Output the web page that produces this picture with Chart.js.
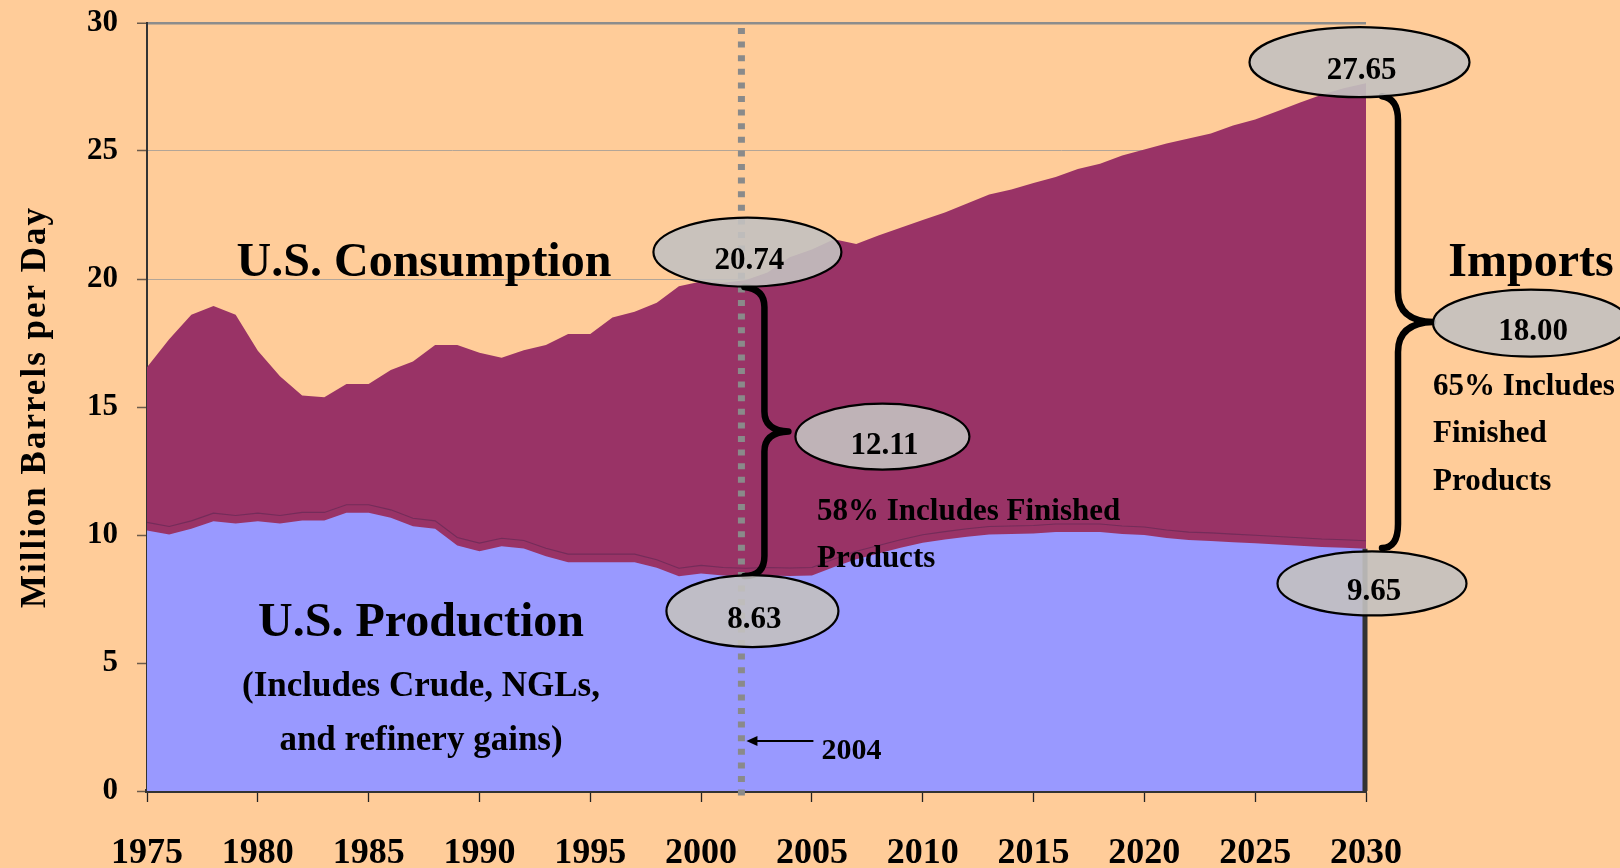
<!DOCTYPE html>
<html><head><meta charset="utf-8">
<script src="https://cdn.jsdelivr.net/npm/chart.js@4/dist/chart.umd.min.js"></script>
<style>html,body{margin:0;padding:0;background:#FFCC99;overflow:hidden}#wrap{width:1620px;height:868px}</style>
</head><body><div id="wrap"><canvas id="c" width="1620" height="868"></canvas></div>
<script>
// ---- data ----
const years = [1975,1976,1977,1978,1979,1980,1981,1982,1983,1984,1985,1986,1987,1988,1989,1990,1991,1992,1993,1994,1995,1996,1997,1998,1999,2000,2001,2002,2003,2004,2005,2006,2007,2008,2009,2010,2011,2012,2013,2014,2015,2016,2017,2018,2019,2020,2021,2022,2023,2024,2025,2026,2027,2028,2029,2030];
const consumption = [16.55,17.65,18.6,18.95,18.6,17.2,16.2,15.45,15.38,15.9,15.9,16.45,16.78,17.42,17.42,17.12,16.92,17.22,17.42,17.85,17.85,18.5,18.72,19.07,19.72,19.9,19.85,19.95,20.25,20.85,21.15,21.55,21.37,21.7,22.0,22.3,22.6,22.95,23.3,23.5,23.75,23.98,24.3,24.5,24.82,25.06,25.29,25.49,25.68,26.0,26.23,26.55,26.88,27.2,27.45,27.65];
const production = [10.18,10.02,10.24,10.54,10.45,10.54,10.45,10.57,10.57,10.87,10.87,10.67,10.34,10.24,9.59,9.37,9.56,9.47,9.17,8.94,8.94,8.94,8.94,8.72,8.39,8.5,8.42,8.39,8.42,8.4,8.42,8.75,9.05,9.28,9.5,9.7,9.82,9.93,10.02,10.04,10.06,10.12,10.12,10.12,10.04,10.0,9.88,9.8,9.77,9.72,9.68,9.63,9.58,9.53,9.5,9.46];
const xTickYears = [1975,1980,1985,1990,1995,2000,2005,2010,2015,2020,2025,2030];
const yTicks = [0,5,10,15,20,25,30];
const markerYear = 2002;          // dotted reference line
const markerLabel = '2004';
const calloutTop = 20.74, calloutMid = 12.11, calloutBot = 8.63;
const calloutTop2 = 27.65, calloutMid2 = 18.00, calloutBot2 = 9.65;
const calloutTexts = ['20.74','12.11','8.63','27.65','18.00','9.65'];

const FONT = "'Liberation Serif','Times New Roman',serif";
Chart.defaults.font.family = FONT;

function drawBrace(ctx, xEnd, yTop, yBot, xV, tipX, rEnd, rTip){
  const yMid = (yTop + yBot) / 2;
  ctx.beginPath();
  ctx.moveTo(xEnd, yTop);
  ctx.quadraticCurveTo(xV, yTop + 2, xV, yTop + rEnd);
  ctx.lineTo(xV, yMid - rTip);
  ctx.quadraticCurveTo(xV, yMid - 1, tipX, yMid);
  ctx.quadraticCurveTo(xV, yMid + 1, xV, yMid + rTip);
  ctx.lineTo(xV, yBot - rEnd);
  ctx.quadraticCurveTo(xV, yBot, xEnd, yBot);
  ctx.stroke();
  return {x: tipX, y: yMid};
}
function ellipse(ctx, cx, cy, rx, ry, text){
  ctx.beginPath();
  ctx.ellipse(cx, cy, rx, ry, 0, 0, Math.PI*2);
  ctx.fillStyle = 'rgba(195,193,192,0.9)';
  ctx.fill();
  ctx.lineWidth = 2.2; ctx.strokeStyle = '#000'; ctx.stroke();
  txt(ctx, text, cx + 2, cy + 17, 31);
}
function txt(ctx, s, x, y, size, align='center', weight='bold'){
  ctx.font = `${weight} ${size}px ${FONT}`;
  ctx.textAlign = align; ctx.textBaseline = 'alphabetic'; ctx.fillStyle = '#000';
  ctx.fillText(s, x, y);
}

const spacing = {
  id: 'spacing',
  afterUpdate(chart){
    const s = chart.scales.y;
    if (s && !s._patched){
      const orig = s.drawTitle;
      s.drawTitle = function(){
        const c = this.ctx; c.save(); c.letterSpacing = '2px'; orig.apply(this, arguments); c.restore();
      };
      s._patched = true;
    }
  }
};

const annot = {
  id: 'annot',
  afterDatasetsDraw(chart){
    const {ctx, chartArea: ca, scales: {x, y}} = chart;
    const xi = yr => x.getPixelForValue(years.indexOf(yr));
    ctx.save();
    // shadow line above production edge
    ctx.beginPath();
    production.forEach((v, i) => {
      const px = x.getPixelForValue(i), py = y.getPixelForValue(v) - 8;
      i ? ctx.lineTo(px, py) : ctx.moveTo(px, py);
    });
    ctx.strokeStyle = 'rgba(70,35,75,0.45)'; ctx.lineWidth = 1.1; ctx.stroke();
    // right border beside production area
    const xr = ca.right;
    ctx.beginPath();
    ctx.moveTo(xr - 1, y.getPixelForValue(production[production.length-1]));
    ctx.lineTo(xr - 1, ca.bottom);
    ctx.strokeStyle = '#333'; ctx.lineWidth = 5; ctx.stroke();

    // dotted marker line
    const X = xi(markerYear) - 4;
    ctx.beginPath();
    ctx.setLineDash([6, 7.6]);
    ctx.moveTo(X, ca.top + 5); ctx.lineTo(X, ca.bottom + 8);
    ctx.strokeStyle = '#8a8a8a'; ctx.lineWidth = 7; ctx.stroke();
    ctx.setLineDash([]);

    // braces
    ctx.strokeStyle = '#000'; ctx.lineWidth = 6.5; ctx.lineCap = 'round'; ctx.lineJoin = 'round';
    const yT = y.getPixelForValue(calloutTop), yB = y.getPixelForValue(calloutBot);
    const tip1 = drawBrace(ctx, X + 3, yT + 27, yB + 6, X + 23, X + 47, 20, 20);
    const XR = x.getPixelForValue(years.length - 1);
    const yT2 = y.getPixelForValue(calloutTop2), yB2 = y.getPixelForValue(calloutBot2);
    const tip2 = drawBrace(ctx, XR + 16, yT2 + 13, yB2 + 4, XR + 32, XR + 67, 24, 30);

    // ellipses
    ellipse(ctx, X + 6, yT - 8, 94, 34.5, calloutTexts[0]);
    ellipse(ctx, tip1.x + 94, tip1.y + 5, 87, 33, calloutTexts[1]);
    ellipse(ctx, X + 11, yB + 41, 86, 36, calloutTexts[2]);
    ellipse(ctx, XR - 6.5, yT2 - 21, 110, 35, calloutTexts[3]);
    ellipse(ctx, tip2.x + 98, tip2.y + 1, 98, 33.5, calloutTexts[4]);
    ellipse(ctx, XR + 6, yB2 + 39.5, 94.5, 32, calloutTexts[5]);

    // arrow to marker
    const ay = 741;
    ctx.beginPath(); ctx.moveTo(X + 72, ay); ctx.lineTo(X + 12, ay);
    ctx.lineWidth = 1.8; ctx.lineCap = 'butt'; ctx.stroke();
    ctx.beginPath(); ctx.moveTo(X + 5, ay); ctx.lineTo(X + 16, ay - 5); ctx.lineTo(X + 16, ay + 5); ctx.closePath();
    ctx.fillStyle = '#000'; ctx.fill();
    txt(ctx, markerLabel, X + 80, 759, 30, 'left');

    // labels
    txt(ctx, 'U.S. Consumption', 424, 276, 48);
    txt(ctx, 'U.S. Production', 421, 636, 48);
    txt(ctx, '(Includes Crude, NGLs,', 421, 696, 35);
    txt(ctx, 'and refinery gains)', 421, 750, 35);
    txt(ctx, 'Imports', 1531, 276, 48);
    txt(ctx, '58% Includes Finished', 817, 520, 31, 'left');
    txt(ctx, 'Products', 817, 567, 31, 'left');
    txt(ctx, '65% Includes', 1433, 395, 31, 'left');
    txt(ctx, 'Finished', 1433, 442, 31, 'left');
    txt(ctx, 'Products', 1433, 490, 31, 'left');
    ctx.restore();
  }
};

new Chart(document.getElementById('c'), {
  type: 'line',
  data: {
    labels: years.map(String),
    datasets: [
      {label: 'U.S. Production', data: production, fill: 'origin', backgroundColor: '#9999FF', borderColor: 'rgba(0,0,0,0)', borderWidth: 0.01, pointRadius: 0, tension: 0},
      {label: 'U.S. Consumption', data: consumption, fill: 'origin', backgroundColor: '#993366', borderColor: 'rgba(0,0,0,0)', borderWidth: 0.01, pointRadius: 0, tension: 0}
    ]
  },
  options: {
    responsive: false, animation: false, devicePixelRatio: 1,
    layout: {padding: {top: 23, right: 254, left: 0, bottom: 0}},
    plugins: {legend: {display: false}, tooltip: {enabled: false}},
    scales: {
      x: {
        type: 'category', offset: false,
        grid: {display: true, drawOnChartArea: false, drawTicks: true, tickLength: 11, tickWidth: 1.3,
               tickColor: c => xTickYears.includes(years[c.index]) ? '#222' : 'rgba(0,0,0,0)'},
        border: {display: true, color: '#333', width: 4},
        ticks: {autoSkip: false, maxRotation: 0, minRotation: 0, padding: 30, color: '#000',
                font: {size: 36, weight: 'bold'},
                callback: (v, i) => xTickYears.includes(years[i]) ? String(years[i]) : ''},
        afterFit: s => { s.height = 77; s.paddingLeft = 0; s.paddingRight = 0; }
      },
      y: {
        min: 0, max: 30,
        afterBuildTicks: s => { s.ticks = yTicks.map(v => ({value: v})); },
        ticks: {padding: 19, color: '#000', font: {size: 31, weight: 'bold'}},
        grid: {color: c => c.tick && c.tick.value === 30 ? '#8c8c8c' : '#b3a597',
               lineWidth: c => c.tick && c.tick.value === 30 ? 2.5 : 1,
               tickColor: '#6b5b4b', tickLength: 10, tickWidth: 1.5},
        border: {display: true, color: '#333', width: 2},
        title: {display: true, text: 'Million Barrels per Day', color: '#000',
                font: {size: 35, weight: 'bold'}, padding: {top: 15, bottom: 0}},
        afterFit: s => { s.width = 147; s.paddingTop = 0; s.paddingBottom = 0; }
      }
    }
  },
  plugins: [spacing, annot]
});
</script></body></html>
